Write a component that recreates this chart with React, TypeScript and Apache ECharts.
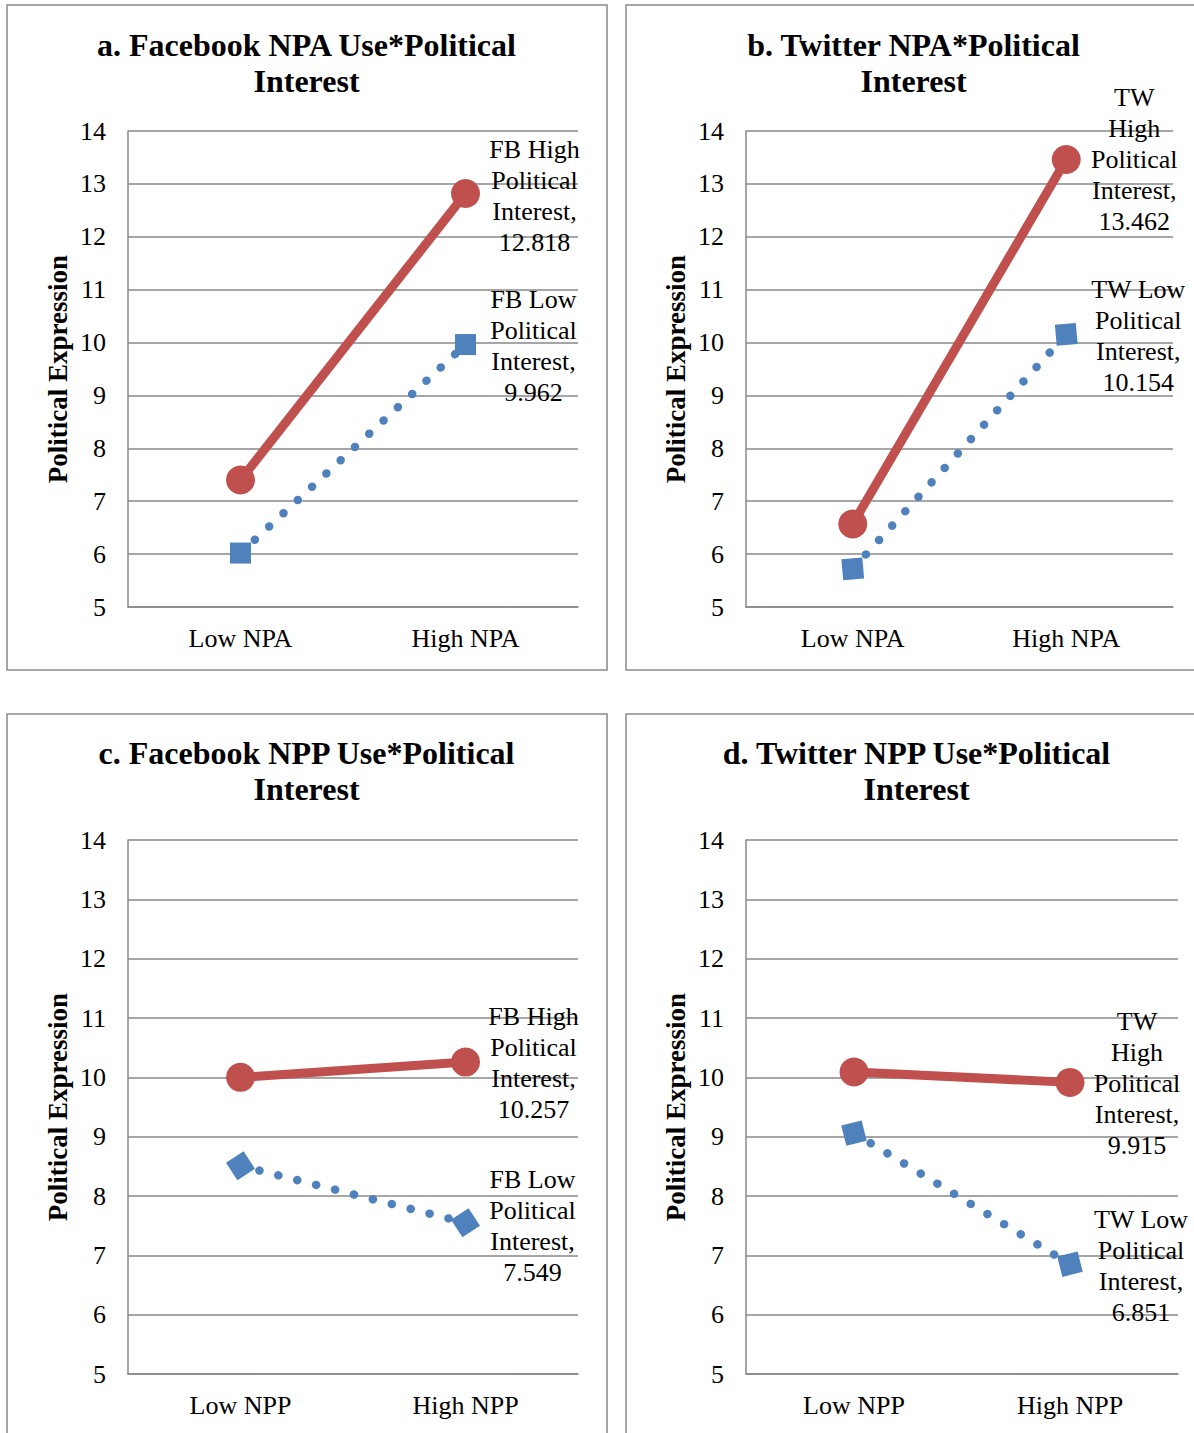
import React, { useEffect, useRef } from "react";
import * as echarts from "echarts";

// ---------- data ----------
const yMin = 5;
const yMax = 14;
const yInterval = 1;

const categoriesNPA = ["Low NPA", "High NPA"];
const categoriesNPP = ["Low NPP", "High NPP"];

const titles = [
  "a. Facebook NPA Use*Political\nInterest",
  "b. Twitter NPA*Political\nInterest",
  "c. Facebook NPP Use*Political\nInterest",
  "d. Twitter NPP Use*Political\nInterest",
];

const yAxisName = "Political Expression";

const highA = [7.4, 12.818];
const lowA = [6.02, 9.962];
const highB = [6.57, 13.462];
const lowB = [5.72, 10.154];
const highC = [10.0, 10.257];
const lowC = [8.51, 7.549];
const highD = [10.09, 9.915];
const lowD = [9.06, 6.851];

const highNames = [
  "FB High\nPolitical\nInterest,",
  "TW\nHigh\nPolitical\nInterest,",
  "FB High\nPolitical\nInterest,",
  "TW\nHigh\nPolitical\nInterest,",
];
const lowNames = [
  "FB Low\nPolitical\nInterest,",
  "TW Low\nPolitical\nInterest,",
  "FB Low\nPolitical\nInterest,",
  "TW Low\nPolitical\nInterest,",
];

// ---------- styles / layout ----------
const FONT = '"Liberation Serif", "Times New Roman", Times, serif';
const RED = "#C0504D";
const BLUE = "#4F81BD";
const GRID = "#888888";

const panels = [
  {
    cats: categoriesNPA, high: highA, low: lowA,
    grid: { left: 128, top: 131, width: 450, height: 476 },
    frame: [7, 5, 600, 665], titlePos: [306.5, 62.5],
    highOffset: [69, 2], lowOffset: [68, 1], lowRotate: 0,
  },
  {
    cats: categoriesNPA, high: highB, low: lowB,
    grid: { left: 746, top: 131, width: 427, height: 476 },
    frame: [626, 5, 600, 665], titlePos: [913.5, 62.5],
    highOffset: [68, 0], lowOffset: [72, 2], lowRotate: 5,
  },
  {
    cats: categoriesNPP, high: highC, low: lowC,
    grid: { left: 128, top: 840, width: 450, height: 534 },
    frame: [7, 714, 600, 740], titlePos: [306.5, 770.5],
    highOffset: [68, 1], lowOffset: [67, 3], lowRotate: 33,
  },
  {
    cats: categoriesNPP, high: highD, low: lowD,
    grid: { left: 746, top: 840, width: 432, height: 534 },
    frame: [626, 714, 600, 740], titlePos: [916.5, 770.5],
    highOffset: [67, 1], lowOffset: [71, 2], lowRotate: 14,
  },
];

function pointLabel(name: string, offset: number[]) {
  return {
    show: true,
    position: "inside",
    offset,
    formatter: (p: any) => `${name}\n${p.value}`,
    fontFamily: FONT,
    fontSize: 26,
    lineHeight: 31,
    color: "#000",
    align: "center",
    verticalAlign: "middle",
    textBorderWidth: 0,
    textBorderColor: "transparent",
  };
}

function buildOption() {
  const grids: any[] = [];
  const xAxes: any[] = [];
  const yAxes: any[] = [];
  const series: any[] = [];
  const graphics: any[] = [];

  panels.forEach((p, i) => {
    grids.push({ ...p.grid, containLabel: false });
    xAxes.push({
      type: "category",
      gridIndex: i,
      data: p.cats,
      boundaryGap: true,
      axisLine: { show: true, lineStyle: { color: GRID, width: 1.5 } },
      axisTick: { show: false },
      axisLabel: { fontFamily: FONT, fontSize: 26, color: "#000", margin: 18 },
      splitLine: { show: false },
    });
    yAxes.push({
      type: "value",
      gridIndex: i,
      min: yMin,
      max: yMax,
      interval: yInterval,
      name: yAxisName,
      nameLocation: "middle",
      nameRotate: 90,
      nameGap: 57,
      nameTextStyle: { fontFamily: FONT, fontSize: 27, fontWeight: "bold", color: "#000" },
      axisLine: { show: true, lineStyle: { color: GRID, width: 1.5 } },
      axisTick: { show: false },
      axisLabel: { fontFamily: FONT, fontSize: 26, color: "#000", margin: 22 },
      splitLine: { show: true, lineStyle: { color: GRID, width: 1.5 } },
    });
    series.push({
      type: "line",
      name: lowNames[i].replace(/\n/g, " ").replace(",", ""),
      xAxisIndex: i,
      yAxisIndex: i,
      data: p.low.map((v, j) => (j === 1 ? { value: v, label: pointLabel(lowNames[i], p.lowOffset) } : v)),
      symbol: "rect",
      symbolSize: 21,
      symbolRotate: p.lowRotate,
      showAllSymbol: true,
      itemStyle: { color: BLUE },
      lineStyle: { color: BLUE, width: 8.5, type: [0.1, 19.4], cap: "round" },
      label: { show: false },
      z: 2,
    });
    series.push({
      type: "line",
      name: highNames[i].replace(/\n/g, " ").replace(",", ""),
      xAxisIndex: i,
      yAxisIndex: i,
      data: p.high.map((v, j) => (j === 1 ? { value: v, label: pointLabel(highNames[i], p.highOffset) } : v)),
      symbol: "circle",
      symbolSize: 29,
      showAllSymbol: true,
      itemStyle: { color: RED },
      lineStyle: { color: RED, width: 9 },
      label: { show: false },
      z: 3,
    });
    const [fx, fy, fw, fh] = p.frame;
    graphics.push({
      type: "rect",
      silent: true,
      shape: { x: fx, y: fy, width: fw, height: fh },
      style: { fill: "none", stroke: "#8a8a8a", lineWidth: 1.5 },
      z: 0,
    });
    graphics.push({
      type: "text",
      silent: true,
      x: p.titlePos[0],
      y: p.titlePos[1],
      style: {
        text: titles[i],
        align: "center",
        verticalAlign: "middle",
        textAlign: "center",
        textVerticalAlign: "middle",
        fontFamily: FONT,
        fontSize: 32,
        fontWeight: "bold",
        lineHeight: 36,
        fill: "#000",
      },
      z: 10,
    });
  });

  return {
    animation: false,
    backgroundColor: "#ffffff",
    grid: grids,
    xAxis: xAxes,
    yAxis: yAxes,
    series,
    graphic: { elements: graphics },
  };
}

export default function App() {
  const ref = useRef<HTMLDivElement>(null);
  useEffect(() => {
    document.body.style.margin = "0";
    const chart = echarts.init(ref.current as HTMLDivElement, null, { renderer: "svg" });
    chart.setOption(buildOption() as any);
    return () => chart.dispose();
  }, []);
  return <div ref={ref} style={{ width: 1194, height: 1433 }} />;
}
